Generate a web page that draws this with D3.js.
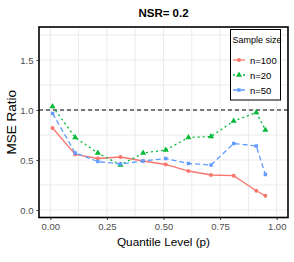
<!DOCTYPE html>
<html><head><meta charset="utf-8">
<script src="https://cdn.jsdelivr.net/npm/d3@7"></script>
<style>body{margin:0;background:#fff}svg{display:block;font-family:"Liberation Sans",Arial,sans-serif}</style>
</head><body><svg id="c" width="294" height="262"></svg>
<script>
const quantiles = [0.01,0.11,0.21,0.31,0.41,0.51,0.61,0.71,0.81,0.91,0.95];
const n100 = [0.82,0.555,0.515,0.53,0.49,0.455,0.39,0.35,0.343,0.193,0.143];
const n20  = [1.035,0.725,0.57,0.45,0.57,0.60,0.725,0.735,0.89,0.975,0.80];
const n50  = [0.965,0.57,0.485,0.46,0.49,0.515,0.465,0.45,0.665,0.64,0.355];
const seriesNames = ["n=100","n=20","n=50"];
const xTicks = [0,0.25,0.5,0.75,1];
const yTicks = [0,0.5,1,1.5];
const xMinor = [0.125,0.375,0.625,0.875];
const yMinor = [0.25,0.75,1.25,1.75];

const colors = ["#F8766D","#00BA38","#619CFF"];
const dashes = [null,"2,3","5,3"];
const shapes = [d3.symbolCircle,d3.symbolTriangle,d3.symbolSquare];
const data = [n100,n20,n50];

const svg = d3.select("#c");
const L=39,R=288,T=27,B=217.5;
const x = d3.scaleLinear().domain([-0.05,1.05]).range([L,R]);
const y = d3.scaleLinear().domain([0,1]).range([210,110]);

// grid
const g = svg.append("g");
g.selectAll(".vm").data(xMinor.concat(xTicks)).join("line")
 .attr("x1",d=>x(d)).attr("x2",d=>x(d)).attr("y1",T).attr("y2",B)
 .attr("stroke","#ebebeb").attr("stroke-width",1);
g.selectAll(".hm").data(yMinor.concat(yTicks)).join("line")
 .attr("x1",L).attr("x2",R).attr("y1",d=>y(d)).attr("y2",d=>y(d))
 .attr("stroke","#ebebeb").attr("stroke-width",1);

// reference line
svg.append("line").attr("x1",L).attr("x2",R).attr("y1",y(1)).attr("y2",y(1))
 .attr("stroke","#000").attr("stroke-width",1.1).attr("stroke-dasharray","4,3");

// series
const line = d3.line().x((d,i)=>x(quantiles[i])).y(d=>y(d));
data.forEach((vals,k)=>{
  svg.append("path").datum(vals).attr("d",line).attr("fill","none")
   .attr("stroke",colors[k]).attr("stroke-width",1.3)
   .attr("stroke-dasharray",dashes[k]);
  svg.append("g").selectAll("path").data(vals).join("path")
   .attr("transform",(d,i)=>`translate(${x(quantiles[i])},${y(d)})`)
   .attr("d",d3.symbol().type(shapes[k]).size(k===1?16:12))
   .attr("fill",colors[k]);
});

// panel border
svg.append("rect").attr("x",L).attr("y",T).attr("width",R-L).attr("height",B-T)
 .attr("fill","none").attr("stroke","#000").attr("stroke-width",1.6);

// axes ticks
const xa = svg.append("g").attr("transform",`translate(0,${B})`)
 .call(d3.axisBottom(x).tickValues(xTicks).tickFormat(d3.format(".2f")).tickSize(2.5).tickPadding(3));
const ya = svg.append("g").attr("transform",`translate(${L},0)`)
 .call(d3.axisLeft(y).tickValues(yTicks).tickFormat(d3.format(".1f")).tickSize(2.5).tickPadding(3));
[xa,ya].forEach(a=>{
  a.select(".domain").remove();
  a.selectAll(".tick line").attr("stroke","#333");
  a.selectAll(".tick text").attr("fill","#4d4d4d").style("font-size","9.5px");
});

// titles
svg.append("text").attr("x",(L+R)/2).attr("y",17).attr("text-anchor","middle")
 .style("font-size","11.5px").style("font-weight","bold").text("NSR= 0.2");
svg.append("text").attr("x",(L+R)/2).attr("y",246).attr("text-anchor","middle")
 .style("font-size","11.8px").text("Quantile Level (p)");
svg.append("text").attr("transform",`translate(16,${(T+B)/2}) rotate(-90)`).attr("text-anchor","middle")
 .style("font-size","13.5px").text("MSE Ratio");

// legend
const lg = svg.append("g");
lg.append("rect").attr("x",230.5).attr("y",29.5).attr("width",50).attr("height",70.5)
 .attr("fill","#fff").attr("stroke","#000").attr("stroke-width",1);
lg.append("text").attr("x",232.5).attr("y",43).style("font-size","9px").text("Sample size");
seriesNames.forEach((s,k)=>{
  const yy = 60 + k*15;
  lg.append("line").attr("x1",233).attr("x2",245).attr("y1",yy).attr("y2",yy)
   .attr("stroke",colors[k]).attr("stroke-width",1.3).attr("stroke-dasharray",dashes[k]);
  lg.append("path").attr("transform",`translate(239,${yy})`)
   .attr("d",d3.symbol().type(shapes[k]).size(k===1?16:12)).attr("fill",colors[k]);
  lg.append("text").attr("x",250).attr("y",yy+3.5).style("font-size","9.5px").text(s);
});
</script></body></html>
